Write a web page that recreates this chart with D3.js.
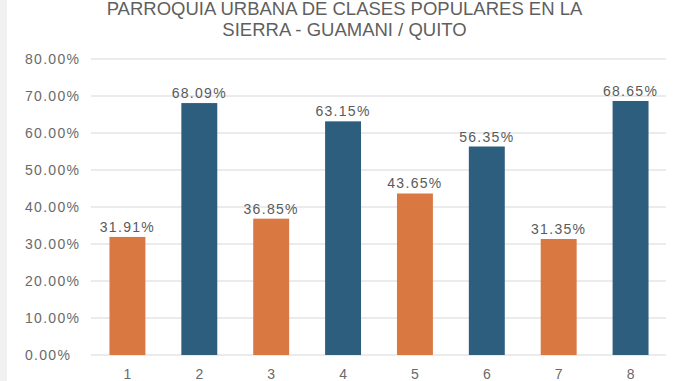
<!DOCTYPE html>
<html>
<head>
<meta charset="utf-8">
<script src="https://cdn.jsdelivr.net/npm/d3@7"></script>
<style>
  html, body { margin: 0; padding: 0; background: #fff; }
  svg { display: block; font-family: Arial, "Liberation Sans", sans-serif; }
</style>
</head>
<body>
<svg id="chart" width="678" height="381"></svg>
<script>
const titleLines = ["PARROQUIA URBANA DE CLASES POPULARES EN LA", "SIERRA - GUAMANI / QUITO"];
const categories = ["1", "2", "3", "4", "5", "6", "7", "8"];
const values = [31.91, 68.09, 36.85, 63.15, 43.65, 56.35, 31.35, 68.65];
const yTicks = [0, 10, 20, 30, 40, 50, 60, 70, 80];
const barColors = ["#DA7842", "#2D5E7E"];

const svg = d3.select("#chart");

// left light strip
svg.append("rect").attr("x", 0).attr("y", 0).attr("width", 7).attr("height", 381).attr("fill", "#f1f1f1");

const x = d3.scaleBand().domain(categories).range([91.5, 666.5]).paddingInner(0.5).paddingOuter(0.25);
const y = d3.scaleLinear().domain([0, 80]).range([355, 59]);

// gridlines
svg.append("g").selectAll("line").data(yTicks).join("line")
  .attr("x1", 91).attr("x2", 666)
  .attr("y1", d => y(d)).attr("y2", d => y(d))
  .attr("stroke", "#e4e4e4").attr("stroke-width", 1.5);

// y tick labels (left aligned)
svg.append("g").selectAll("text").data(yTicks).join("text")
  .attr("x", 25).attr("y", d => y(d) + 5)
  .attr("font-size", 14).attr("letter-spacing", 1.3)
  .attr("fill", "#6a6a6a")
  .text(d => d.toFixed(2) + "%");

// bars
svg.append("g").selectAll("rect").data(values).join("rect")
  .attr("x", (d, i) => x(categories[i]))
  .attr("width", x.bandwidth())
  .attr("y", d => y(d))
  .attr("height", d => y(0) - y(d))
  .attr("fill", (d, i) => barColors[i % 2]);

// value labels
svg.append("g").selectAll("text").data(values).join("text")
  .attr("x", (d, i) => x(categories[i]) + x.bandwidth() / 2)
  .attr("y", d => y(d) - 5)
  .attr("text-anchor", "middle")
  .attr("font-size", 14).attr("letter-spacing", 1.3)
  .attr("fill", "#5a5a5a")
  .text(d => d.toFixed(2) + "%");

// x labels
svg.append("g").selectAll("text").data(categories).join("text")
  .attr("x", d => x(d) + x.bandwidth() / 2)
  .attr("y", 379)
  .attr("text-anchor", "middle")
  .attr("font-size", 14)
  .attr("fill", "#6a6a6a")
  .text(d => d);

// title
svg.append("g").selectAll("text").data(titleLines).join("text")
  .attr("x", 344.5)
  .attr("y", (d, i) => 15 + i * 21)
  .attr("text-anchor", "middle")
  .attr("font-size", 18.5)
  .attr("fill", "#5f5f5f")
  .text(d => d);
</script>
</body>
</html>
